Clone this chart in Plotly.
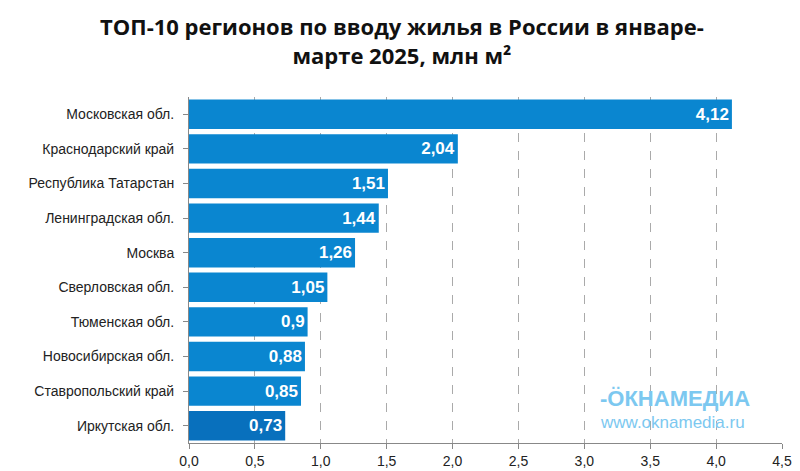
import plotly.graph_objects as go

regions = ["Московская обл.", "Краснодарский край", "Республика Татарстан", "Ленинградская обл.",
           "Москва", "Сверловская обл.", "Тюменская обл.", "Новосибирская обл.",
           "Ставропольский край", "Иркутская обл."]
values = [4.12, 2.04, 1.51, 1.44, 1.26, 1.05, 0.9, 0.88, 0.85, 0.73]
labels = ["4,12", "2,04", "1,51", "1,44", "1,26", "1,05", "0,9", "0,88", "0,85", "0,73"]
tickvals = [0, 0.5, 1, 1.5, 2, 2.5, 3, 3.5, 4, 4.5]
ticktext = ["0,0", "0,5", "1,0", "1,5", "2,0", "2,5", "3,0", "3,5", "4,0", "4,5"]

colors = ["#0a86d0"] * 9 + ["#0870bd"]

fig = go.Figure(go.Bar(
    y=regions, x=values, orientation="h", marker=dict(color=colors, line=dict(width=0)),
    text=["<b>" + t + "</b>" for t in labels], textposition="inside", insidetextanchor="end",
    textfont=dict(color="white", size=17, family="Liberation Sans"), width=0.85,
))
fig.update_layout(
    width=792, height=463, paper_bgcolor="white", plot_bgcolor="white",
    margin=dict(l=181, r=18, t=89, b=28),
    font=dict(family="Liberation Sans", size=14, color="#222"),
    showlegend=False, bargap=0.15,
)
fig.add_annotation(xref="paper", yref="paper", x=0.36, y=1, yshift=88, yanchor="top", showarrow=False,
                   text="<b>ТОП-10 регионов по вводу жилья в России в январе-<br>марте 2025, млн м²</b>",
                   font=dict(size=22, family="Open Sans", color="#111"), xanchor="center")
fig.update_xaxes(range=[0, 4.5], tickvals=tickvals, ticktext=ticktext, showgrid=True,
                 gridcolor="#aaa", griddash="dash", showline=True, linecolor="#888",
                 ticks="outside", tickcolor="#888", ticklen=5, zeroline=False,
                 tickfont=dict(size=14), automargin=False)
fig.update_yaxes(autorange="reversed", showline=True, linecolor="#888", ticks="outside",
                 tickcolor="#888", ticklen=5, ticklabelstandoff=6, tickfont=dict(size=14),
                 automargin=False)
fig.add_annotation(x=3.1, y=8.2, xref="x", yref="y", xanchor="left", showarrow=False,
                   text="<b>-ÖКНАМЕДИА</b>", font=dict(size=22, color="#7cc8f0", family="Liberation Sans"))
fig.add_annotation(x=3.1, y=8.9, xref="x", yref="y", xanchor="left", showarrow=False,
                   text="www.oknamedia.ru", font=dict(size=17, color="#7cc8f0", family="Liberation Sans"))
fig.write_html("out.html")
